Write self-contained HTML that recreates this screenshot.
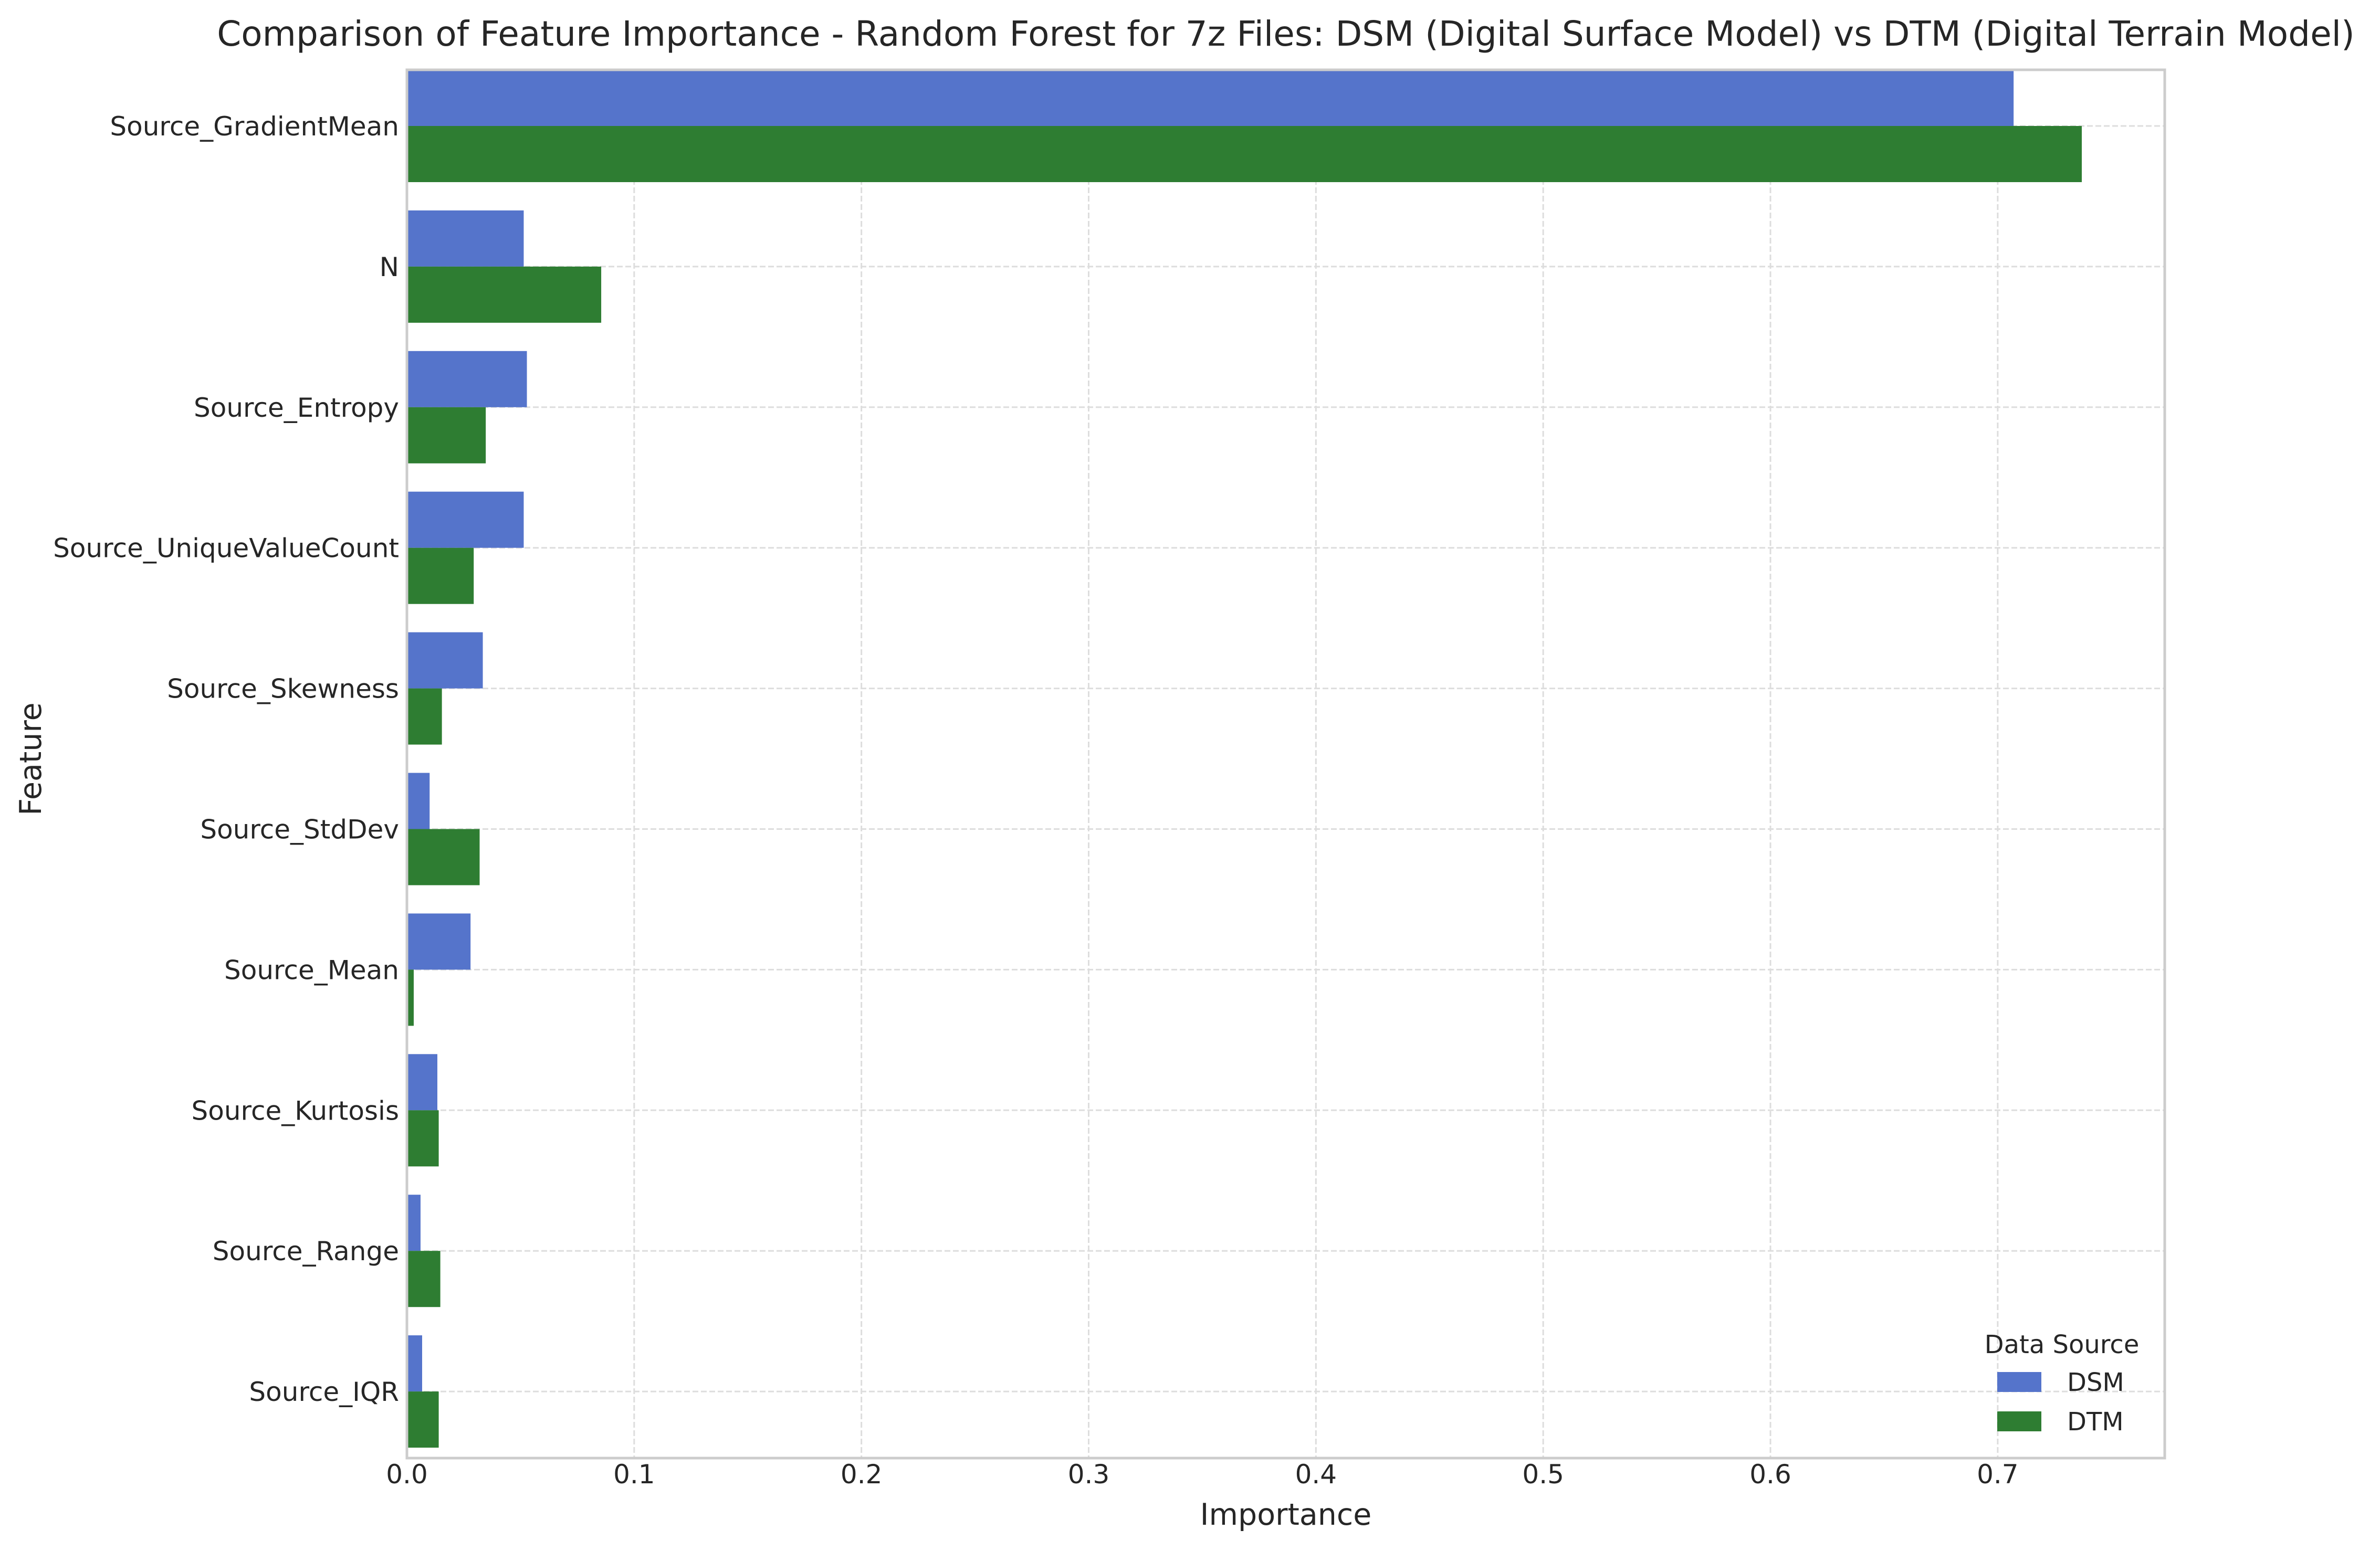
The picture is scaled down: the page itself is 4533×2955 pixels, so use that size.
<!DOCTYPE html>
<html><head><meta charset="utf-8"><style>
html,body{margin:0;padding:0;background:#fff;}
svg text{font-family:"DejaVu Sans","Liberation Sans",sans-serif;fill:#262626;}
</style></head><body>
<svg id="chart" width="4533" height="2950" viewBox="0 0 4533 2950" xmlns="http://www.w3.org/2000/svg">
<rect width="4533" height="2950" fill="#fff"/>
<g id="grid"></g>
<g id="bars"></g>
<rect x="775" y="133" width="3348" height="2645" fill="none" stroke="#cccccc" stroke-width="5"/>
<g id="ticks"></g>
<text x="2449" y="87" font-size="66" text-anchor="middle">Comparison of Feature Importance - Random Forest for 7z Files: DSM (Digital Surface Model) vs DTM (Digital Terrain Model)</text>
<text x="2449" y="2905" font-size="57" text-anchor="middle">Importance</text>
<text x="0" y="0" font-size="57" text-anchor="middle" transform="translate(78,1446) rotate(-90)">Feature</text>
<g>
<text x="3927" y="2578" font-size="48" text-anchor="middle">Data Source</text>
<rect x="3804" y="2614" width="84" height="38" fill="#5574cb"/>
<text x="3937" y="2650" font-size="48">DSM</text>
<rect x="3804" y="2689" width="84" height="38" fill="#2e7d32"/>
<text x="3937" y="2725" font-size="48">DTM</text>
</g>
</svg>
<script>
const categories = ["Source_GradientMean","N","Source_Entropy","Source_UniqueValueCount","Source_Skewness","Source_StdDev","Source_Mean","Source_Kurtosis","Source_Range","Source_IQR"];
const dsmValues = [0.707,0.0514,0.0528,0.0514,0.0334,0.0100,0.0280,0.0134,0.0060,0.0067];
const dtmValues = [0.737,0.0855,0.0347,0.0294,0.0154,0.0320,0.0030,0.0140,0.0147,0.0140];
const xTicks = [0,0.1,0.2,0.3,0.4,0.5,0.6,0.7];
const xTickLabels = ["0.0","0.1","0.2","0.3","0.4","0.5","0.6","0.7"];

const NS = "http://www.w3.org/2000/svg";
const L = 775, R = 4123, T = 133, B = 2778, XMAX = 0.7735;
function xs(v){ return L + v/XMAX*(R-L); }
const Y0 = 240, STEP = 267.9;
function yc(i){ return Y0 + STEP*i; }
function mk(tag, attrs, parent){ const e=document.createElementNS(NS,tag); for(const k in attrs) e.setAttribute(k,attrs[k]); parent.appendChild(e); return e; }
const grid = document.getElementById('grid'), bars = document.getElementById('bars'), ticks = document.getElementById('ticks');
xTicks.forEach((t,i)=>{
  const g = mk('line',{x1:xs(t),x2:xs(t),y1:T,y2:B,stroke:'#dddddd','stroke-width':3,'stroke-dasharray':'11 5'},grid);
  
  
  const tx = mk('text',{x:xs(t),y:2826,'font-size':50,'text-anchor':'middle'},ticks);
  tx.textContent = xTickLabels[i];
  
  
});
categories.forEach((c,i)=>{
  const g = mk('line',{x1:L,x2:R,y1:yc(i),y2:yc(i),stroke:'#dddddd','stroke-width':3,'stroke-dasharray':'11 5'},grid);
  
  
  const h = 107;
  const b1 = mk('rect',{x:xs(0),y:yc(i)-h,width:xs(dsmValues[i])-xs(0),height:h,fill:'#5574cb'},bars);
  
  
  const b2 = mk('rect',{x:xs(0),y:yc(i),width:xs(dtmValues[i])-xs(0),height:h,fill:'#2e7d32'},bars);
  
  
  const t = mk('text',{x:760,y:yc(i)+18,'font-size':50,'text-anchor':'end'},ticks);
  t.textContent = c;
  
  
});
</script>
</body></html>
